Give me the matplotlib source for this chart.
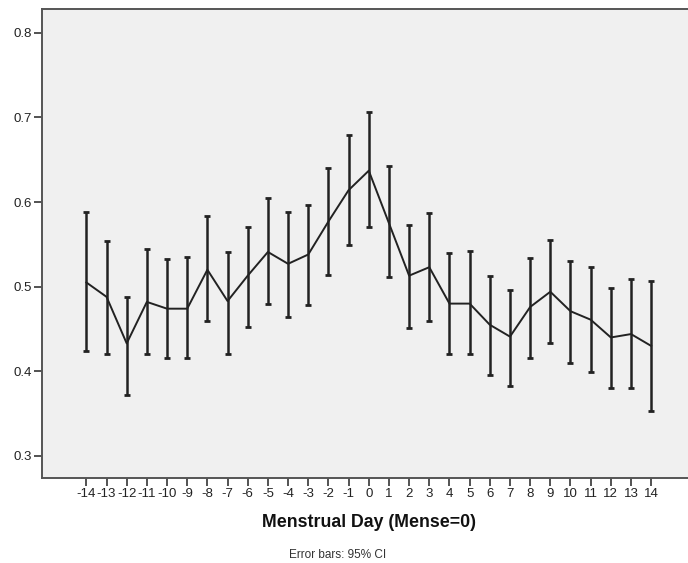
import numpy as np
import matplotlib
matplotlib.use("Agg")
import matplotlib.pyplot as plt

plt.rcParams["font.family"] = ["Liberation Sans", "DejaVu Sans"]

# Menstrual day relative to onset of menses
days = list(range(-14, 15))

# Mean values
means = [0.505, 0.488, 0.433, 0.482, 0.474, 0.474, 0.520, 0.483, 0.513, 0.541,
         0.527, 0.538, 0.577, 0.614, 0.637, 0.575, 0.513, 0.523, 0.480, 0.480,
         0.455, 0.441, 0.476, 0.494, 0.471, 0.461, 0.440, 0.444, 0.430]

# 95% CI bounds
ci_upper = [0.588, 0.554, 0.488, 0.545, 0.533, 0.535, 0.583, 0.541, 0.571, 0.605,
            0.588, 0.597, 0.640, 0.679, 0.706, 0.642, 0.573, 0.587, 0.540, 0.542,
            0.513, 0.496, 0.534, 0.555, 0.530, 0.523, 0.499, 0.509, 0.507]
ci_lower = [0.424, 0.420, 0.372, 0.421, 0.416, 0.416, 0.460, 0.421, 0.452, 0.480,
            0.464, 0.478, 0.514, 0.549, 0.571, 0.511, 0.451, 0.460, 0.420, 0.420,
            0.396, 0.383, 0.416, 0.433, 0.410, 0.399, 0.380, 0.380, 0.353]

y_ticks = [0.3, 0.4, 0.5, 0.6, 0.7, 0.8]

means = np.array(means)
err = [means - np.array(ci_lower), np.array(ci_upper) - means]

fig = plt.figure(figsize=(6.88, 5.63), dpi=100)
ax = fig.add_axes([0.061, 0.151, 0.95, 0.833])
ax.set_facecolor("#f0f0f0")

ax.errorbar(days, means, yerr=err, color="#222222", lw=1.4, elinewidth=1.8,
            capsize=2, capthick=2)

ax.set_xlim(-16.2, 16.2)
ax.set_ylim(0.274, 0.828)
ax.set_xticks(days)
ax.set_xticklabels([str(d) for d in days])
ax.set_yticks(y_ticks)
ax.set_yticklabels([str(v) for v in y_ticks])
ax.tick_params(axis="both", labelsize=9.5, length=6, width=1.3, color="#444444",
               labelcolor="#222222", pad=1.5)

for side in ["left", "bottom", "top"]:
    ax.spines[side].set_color("#555555")
    ax.spines[side].set_linewidth(1.4)
ax.spines["right"].set_visible(False)

ax.set_xlabel("Menstrual Day (Mense=0)", fontsize=12.8, fontweight="bold",
              color="#111111", labelpad=10)
fig.text(0.491, 0.008, "Error bars: 95% CI", fontsize=8.5, ha="center",
         color="#333333")

fig.savefig("out.png", dpi=100, facecolor="white")
